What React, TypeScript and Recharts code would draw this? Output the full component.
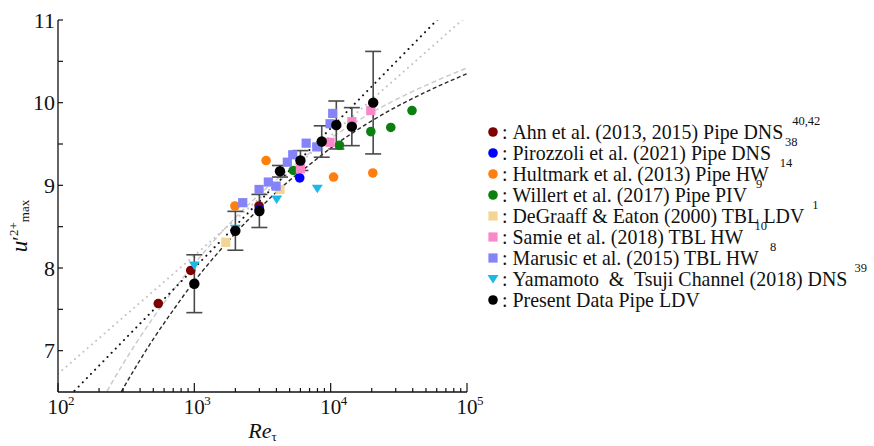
import React from "react";
import { ComposedChart, XAxis, YAxis, Line, Scatter, ErrorBar } from "recharts";

const SERIF = "'Liberation Serif', 'Times New Roman', serif";

// axis ticks
const reTicks = [
  100, 200, 300, 400, 500, 600, 700, 800, 900,
  1000, 2000, 3000, 4000, 5000, 6000, 7000, 8000, 9000,
  10000, 20000, 30000, 40000, 50000, 60000, 70000, 80000, 90000, 100000,
];
const uTicks = [7, 7.5, 8, 8.5, 9, 9.5, 10, 10.5, 11];

// datasets
const ahnRe = [544, 941, 2985];
const ahnU = [7.57, 7.97, 8.75];

const pirozzoliRe = [3000, 5930];
const pirozzoliU = [8.71, 9.09];

const hultmarkRe = [1985, 3360, 10500, 20370];
const hultmarkU = [8.75, 9.3, 9.1, 9.15];

const willertRe = [5320, 11600, 19700, 27600, 39500];
const willertU = [9.18, 9.485, 9.65, 9.7, 9.905];

const degraaffRe = [1700, 4250];
const degraaffU = [8.31, 8.95];

const samieRe = [6000, 9900, 14300, 19700];
const samieU = [9.2, 9.52, 9.77, 9.905];

const marusicRe = [2265, 2985, 3490, 3980, 4810, 5270, 6610, 7910, 9900, 10350];
const marusicU = [8.79, 8.95, 9.04, 8.99, 9.28, 9.37, 9.51, 9.465, 9.745, 9.87];

const yamamotoRe = [1000, 2000, 4020, 7980];
const yamamotoU = [8.03, 8.475, 8.83, 8.96];

const presentRe = [1000, 2000, 3000, 4250, 6000, 8600, 11000, 14300, 20500];
const presentU = [7.81, 8.45, 8.69, 9.17, 9.3, 9.53, 9.73, 9.71, 10.0];
const presentErr = [0.35, 0.235, 0.2, 0.07, 0.12, 0.19, 0.29, 0.23, 0.62];

// fit curves
const curveRe = [200, 300, 500, 700, 1000, 1500, 2000, 3000, 5000, 7000, 10000, 20000, 50000, 100000];
const blackDashedU = [6.01, 6.54, 7.14, 7.49, 7.84, 8.19, 8.42, 8.72, 9.06, 9.25, 9.45, 9.78, 10.13, 10.35];
const greyDashedU = [6.34, 6.84, 7.4, 7.73, 8.05, 8.39, 8.61, 8.89, 9.2, 9.39, 9.57, 9.88, 10.21, 10.42];
const lineRe = [100, 1000, 10000, 100000];
const blackDottedU = [6.31, 8.0, 9.69, 11.37];
const greyDottedU = [6.72, 8.15, 9.6, 11.05];

const pts = (xs: number[], ys: number[], errs?: number[]) =>
  xs.map((x, i) => ({ x, y: ys[i], e: errs ? errs[i] : 0 }));

type Shape = "circle" | "square" | "triangle";

const series = [
  { name: "Ahn et al. (2013, 2015) Pipe DNS", sup: "40,42", color: "#7e0000", shape: "circle", data: pts(ahnRe, ahnU) },
  { name: "Pirozzoli et al. (2021) Pipe DNS", sup: "38", color: "#0000ff", shape: "circle", data: pts(pirozzoliRe, pirozzoliU) },
  { name: "Hultmark et al. (2013) Pipe HW", sup: "14", color: "#ff7f0e", shape: "circle", data: pts(hultmarkRe, hultmarkU) },
  { name: "Willert et al. (2017) Pipe PIV", sup: "9", color: "#0b8010", shape: "circle", data: pts(willertRe, willertU) },
  { name: "DeGraaff & Eaton (2000) TBL LDV", sup: "1", color: "#f4d694", shape: "square", data: pts(degraaffRe, degraaffU) },
  { name: "Samie et al. (2018) TBL HW", sup: "10", color: "#f888c8", shape: "square", data: pts(samieRe, samieU) },
  { name: "Marusic et al. (2015) TBL HW", sup: "8", color: "#8484f8", shape: "square", data: pts(marusicRe, marusicU) },
  { name: "Yamamoto\u00a0 &\u00a0 Tsuji Channel (2018) DNS", sup: "39", color: "#1cb8e8", shape: "triangle", data: pts(yamamotoRe, yamamotoU) },
] as { name: string; sup: string; color: string; shape: Shape; data: { x: number; y: number; e: number }[] }[];

const presentData = pts(presentRe, presentU, presentErr);

// gap before each reference number in the legend
const supGap = [9, 14, 11, 9, 8, 11, 11, 7];

function marker(shape: Shape, color: string, cx: number, cy: number) {
  if (shape === "square") return <rect x={cx - 4.6} y={cy - 4.6} width={9.2} height={9.2} fill={color} />;
  if (shape === "triangle")
    return <polygon points={`${cx - 5.5},${cy - 4} ${cx + 5.5},${cy - 4} ${cx},${cy + 4.5}`} fill={color} />;
  return <circle cx={cx} cy={cy} r={4.8} fill={color} />;
}

const isMajor = (v: number) => Math.abs(Math.log10(v) - Math.round(Math.log10(v))) < 1e-6;

const BottomTick = ({ x, y, payload }: any) => {
  const v = payload.value;
  const major = isMajor(v);
  return (
    <g>
      <line x1={x} x2={x} y1={y} y2={y - (major ? 9 : 4)} stroke="#111" strokeWidth={1.2} />
      {major && (
        <>
          <text x={x} y={y + 22} textAnchor="middle" fontSize={21} fontFamily={SERIF} fill="#111">
            10
          </text>
          <text x={x + 10} y={y + 13} fontSize={13} fontFamily={SERIF} fill="#111">
            {Math.round(Math.log10(v))}
          </text>
        </>
      )}
    </g>
  );
};

const TopTick = ({ x, y, payload }: any) => (
  <line x1={x} x2={x} y1={y} y2={y + (isMajor(payload.value) ? 9 : 4)} stroke="#111" strokeWidth={1.2} />
);

const LeftTick = ({ x, y, payload }: any) => {
  const v = payload.value;
  return (
    <g>
      <line x1={x} x2={x + 5} y1={y} y2={y} stroke="#111" strokeWidth={1.2} />
      {Number.isInteger(v) && (
        <text x={x - 3} y={y + 7.5} textAnchor="end" fontSize={22} fontFamily={SERIF} fill="#111">
          {v}
        </text>
      )}
    </g>
  );
};

const RightTick = ({ x, y }: any) => <line x1={x} x2={x - 6} y1={y} y2={y} stroke="#111" strokeWidth={1.2} />;

const YTitle = ({ viewBox }: any) => {
  const cx = viewBox.x + 27;
  const cy = viewBox.y + viewBox.height / 2 + 20;
  return (
    <text x={cx} y={cy} transform={`rotate(-90, ${cx}, ${cy})`} textAnchor="middle" fontFamily={SERIF} fill="#111">
      <tspan fontSize={23} fontStyle="italic">u</tspan>
      <tspan fontSize={21}>{"\u2032"}</tspan>
      <tspan fontSize={13} dy={-9}>2+</tspan>
      <tspan fontSize={13} dy={11}>max</tspan>
    </text>
  );
};

const XTitle = ({ viewBox }: any) => (
  <text x={viewBox.x + viewBox.width / 2} y={viewBox.y + 46} textAnchor="middle" fontFamily={SERIF} fill="#111">
    <tspan fontSize={22} fontStyle="italic">Re</tspan>
    <tspan fontSize={13} dy={3}>{"\u03c4"}</tspan>
  </text>
);

function Legend() {
  const rows = [
    ...series.map((s, i) => ({ name: s.name, sup: s.sup, color: s.color, shape: s.shape, gap: supGap[i] })),
    { name: "Present Data Pipe LDV", sup: "", color: "#000", shape: "circle" as Shape, gap: 0 },
  ];
  return (
    <div style={{ position: "absolute", left: 485, top: 122, fontFamily: SERIF, color: "#111" }}>
      {rows.map((r) => (
        <div key={r.name} style={{ height: 20.9, display: "flex", alignItems: "center", whiteSpace: "nowrap" }}>
          <svg width={16} height={14} style={{ flex: "none" }}>
            {marker(r.shape, r.color, 8, 7)}
          </svg>
          <span style={{ fontSize: 19.9, lineHeight: "20px", marginLeft: 1 }}>:&nbsp;{r.name}</span>
          {r.sup && (
            <span style={{ fontSize: 12.5, lineHeight: "12px", position: "relative", top: -11, marginLeft: r.gap }}>
              {r.sup}
            </span>
          )}
        </div>
      ))}
    </div>
  );
}

export default function App() {
  return (
    <div style={{ position: "absolute", left: 0, top: 0, width: 874, height: 446, background: "#fff" }}>
      <ComposedChart width={874} height={446} margin={{ top: 20, right: 407, bottom: 0, left: 0 }}>
        <XAxis
          xAxisId={0}
          dataKey="x"
          type="number"
          scale="log"
          domain={[100, 100000]}
          allowDataOverflow
          ticks={reTicks}
          interval={0}
          height={54}
          tickSize={0}
          tickMargin={0}
          tickLine={false}
          tick={<BottomTick />}
          axisLine={{ stroke: "#111", strokeWidth: 1.3 }}
          label={{ content: <XTitle /> }}
        />
        <XAxis
          xAxisId="top"
          orientation="top"
          type="number"
          scale="log"
          domain={[100, 100000]}
          allowDataOverflow
          ticks={reTicks}
          interval={0}
          height={0}
          tickSize={0}
          tickMargin={0}
          tickLine={false}
          tick={<TopTick />}
          axisLine={{ stroke: "#111", strokeWidth: 1.3 }}
        />
        <YAxis
          yAxisId={0}
          dataKey="y"
          type="number"
          domain={[6.5, 11]}
          allowDataOverflow
          ticks={uTicks}
          interval={0}
          width={58}
          tickSize={0}
          tickMargin={0}
          tickLine={false}
          tick={<LeftTick />}
          axisLine={{ stroke: "#111", strokeWidth: 1.3 }}
          label={{ content: <YTitle /> }}
        />
        <YAxis
          yAxisId="right"
          orientation="right"
          type="number"
          domain={[6.5, 11]}
          allowDataOverflow
          ticks={uTicks}
          interval={0}
          width={0}
          tickSize={0}
          tickMargin={0}
          tickLine={false}
          tick={<RightTick />}
          axisLine={{ stroke: "#111", strokeWidth: 1.3 }}
        />

        {/* fit curves */}
        <Line data={pts(lineRe, greyDottedU)} dataKey="y" type="linear" stroke="#c4c4c4" strokeWidth={2}
          strokeLinecap="round" strokeDasharray="0.1 5.5" dot={false} activeDot={false} isAnimationActive={false} />
        <Line data={pts(curveRe, greyDashedU)} dataKey="y" type="monotone" stroke="#c8c8c8" strokeWidth={1.4}
          strokeDasharray="5 3" dot={false} activeDot={false} isAnimationActive={false} />
        <Line data={pts(lineRe, blackDottedU)} dataKey="y" type="linear" stroke="#111" strokeWidth={2}
          strokeLinecap="round" strokeDasharray="0.1 5.8" dot={false} activeDot={false} isAnimationActive={false} />
        <Line data={pts(curveRe, blackDashedU)} dataKey="y" type="monotone" stroke="#2a2a2a" strokeWidth={1.4}
          strokeDasharray="4 2.6" dot={false} activeDot={false} isAnimationActive={false} />

        {series.map((s) => (
          <Scatter
            key={s.name}
            name={s.name}
            data={s.data}
            isAnimationActive={false}
            shape={(p: any) => marker(s.shape, s.color, p.cx, p.cy)}
          />
        ))}
        <Scatter
          name="Present Data Pipe LDV"
          data={presentData}
          isAnimationActive={false}
          shape={(p: any) => <circle cx={p.cx} cy={p.cy} r={5.2} fill="#000" />}
        >
          <ErrorBar dataKey="e" direction="y" width={8} stroke="#4a4a4a" strokeWidth={1.6} />
        </Scatter>
      </ComposedChart>
      <Legend />
    </div>
  );
}
